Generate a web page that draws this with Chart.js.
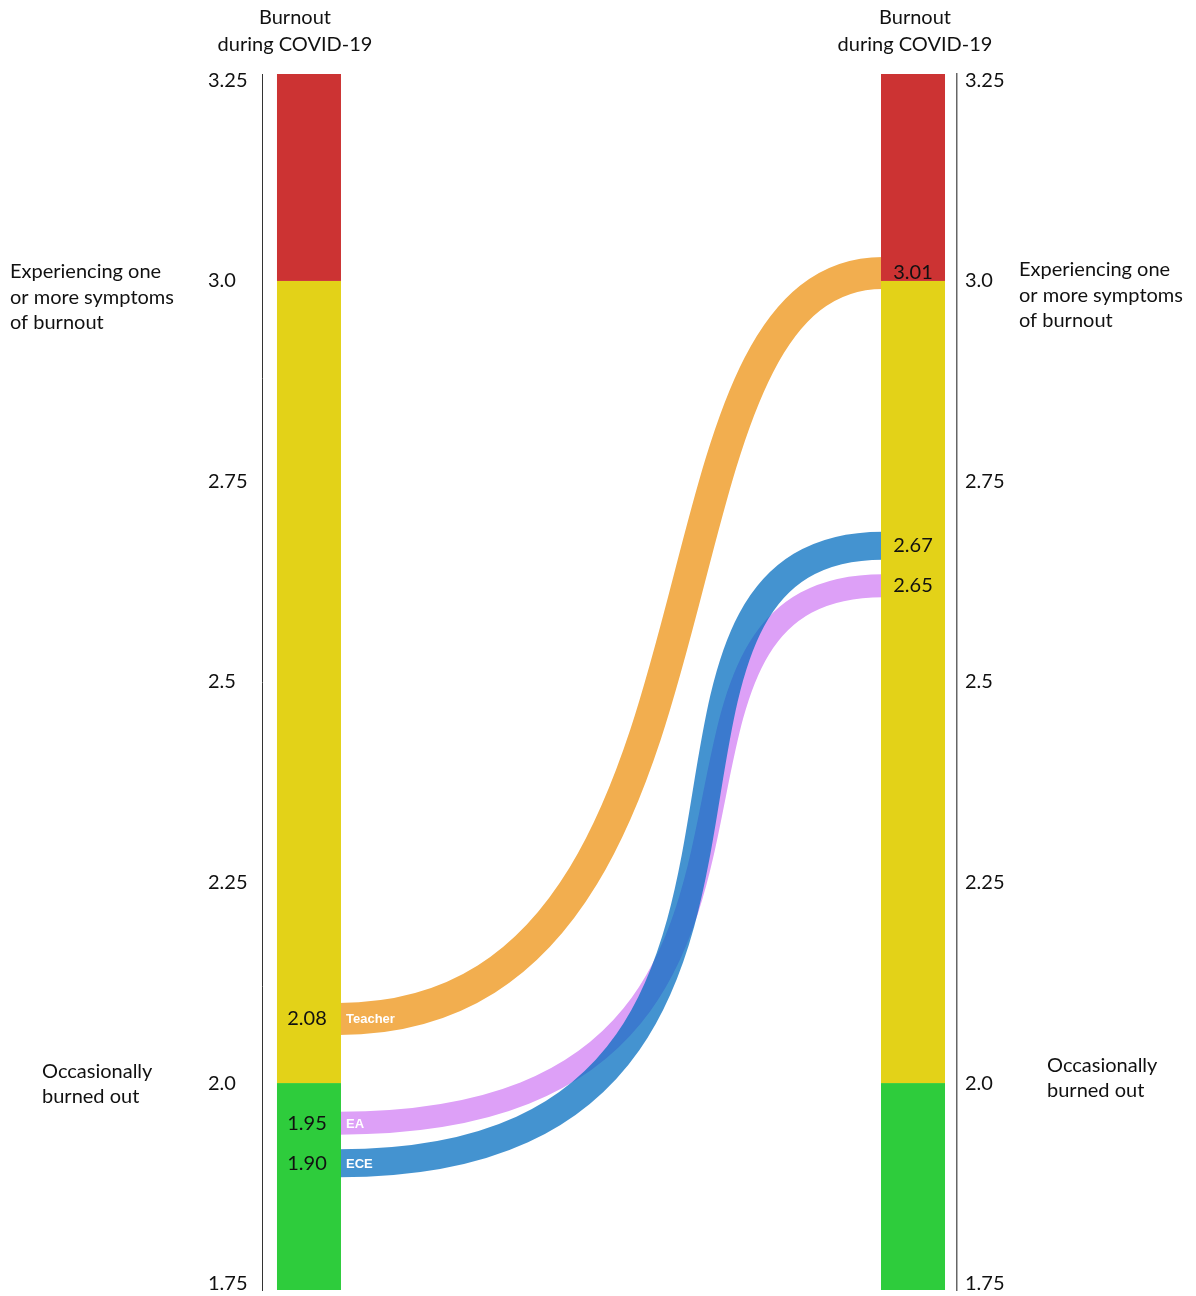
<!DOCTYPE html>
<html>
<head>
<meta charset="utf-8">
<script src="https://cdn.jsdelivr.net/npm/chart.js"></script>
<style>
  html, body { margin: 0; padding: 0; background: #fff; }
  #wrap { width: 1196px; height: 1296px; }
</style>
</head>
<body>
<div id="wrap"><canvas id="burnoutChart" width="1196" height="1296"></canvas></div>
<script>
// --- data ---
const groups = ['Teacher', 'EA', 'ECE'];
const beforeValues = [2.08, 1.95, 1.90];   // left column
const duringValues = [3.01, 2.65, 2.67];   // right column
const zoneBounds = [1.742, 2.0, 3.0, 3.258];
const zoneColors = ['#2ECC3C', '#E3D218', '#CC3333'];
const tickValues = [1.75, 2.0, 2.25, 2.5, 2.75, 3.0, 3.25];
const tickLabels = ['1.75', '2.0', '2.25', '2.5', '2.75', '3.0', '3.25'];
const columnTitle = ['Burnout', 'during COVID-19'];
const zoneNotes = [['Occasionally', 'burned out'], ['Experiencing one', 'or more symptoms', 'of burnout']];

// --- styles ---
const FONT = 'Lato, "Open Sans", sans-serif';
const bandColors = ['#F2AE4F', '#DDA0F7', 'rgba(0,108,191,0.735)'];
const bandWidth = [32, 23, 28];
const bandShape = [[0.78, 0.52], [1.0, 0.45], [1.0, 0.42]]; // bezier control x (normalized)
const colX = [0.0676, 0.9367];   // column centres on the hidden x scale
const colW = 64;
const minSep = 40;

function spread(ys) {
  // push band ends apart when they would overlap
  const idx = ys.map((y, i) => i).sort((a, b) => ys[a] - ys[b]);
  const out = ys.slice();
  for (let k = 1; k < idx.length; k++) {
    const prev = out[idx[k - 1]], cur = idx[k];
    if (out[cur] - prev < minSep) out[cur] = prev + minSep;
  }
  return out;
}

const drawPlugin = {
  id: 'burnoutDraw',
  beforeDatasetsDraw(chart) {
    const { ctx, scales: { x, y } } = chart;
    const cx = colX.map(v => x.getPixelForValue(v));
    const x0 = cx[0] + colW / 2, x1 = cx[1] - colW / 2;
    const y0s = spread(beforeValues.map(v => y.getPixelForValue(v)));
    const y1s = spread(duringValues.map(v => y.getPixelForValue(v)));
    chart.$ends = { cx, x0, x1, y0s, y1s };

    // bands
    groups.forEach((g, i) => {
      const dx = x1 - x0, [a, b] = bandShape[i];
      ctx.save();
      ctx.beginPath();
      ctx.moveTo(x0 - 2, y0s[i]);
      ctx.bezierCurveTo(x0 + a * dx, y0s[i], x0 + b * dx, y1s[i], x1 + 2, y1s[i]);
      ctx.strokeStyle = bandColors[i];
      ctx.lineWidth = bandWidth[i];
      ctx.lineCap = 'butt';
      ctx.stroke();
      ctx.restore();
    });

    // zone columns
    cx.forEach(c => {
      for (let z = 0; z < zoneColors.length; z++) {
        const top = y.getPixelForValue(zoneBounds[z + 1]);
        const bot = y.getPixelForValue(zoneBounds[z]);
        ctx.fillStyle = zoneColors[z];
        ctx.fillRect(c - colW / 2, top, colW, bot - top);
      }
    });
  },
  afterDraw(chart) {
    const { ctx, scales: { y } } = chart;
    const { cx, x0, y0s, y1s } = chart.$ends;
    ctx.save();
    ctx.textBaseline = 'middle';

    // value labels
    ctx.fillStyle = '#111';
    ctx.font = '20px ' + FONT;
    ctx.textAlign = 'center';
    groups.forEach((g, i) => {
      ctx.fillText(beforeValues[i].toFixed(2), cx[0] - 2, y0s[i]);
      ctx.fillText(duringValues[i].toFixed(2), cx[1], y1s[i]);
    });

    // group names on the bands
    ctx.fillStyle = '#fff';
    ctx.font = 'bold 13px "Liberation Sans", Arial, sans-serif';
    ctx.textAlign = 'left';
    groups.forEach((g, i) => ctx.fillText(g, x0 + 5, y0s[i] + 1));

    // column titles
    ctx.fillStyle = '#111';
    ctx.font = '20px ' + FONT;
    ctx.textAlign = 'center';
    [cx[0] - 14, cx[1] + 2].forEach(c => {
      ctx.fillText(columnTitle[0], c, 18);
      ctx.fillText(columnTitle[1], c, 45);
    });

    // zone notes
    ctx.textAlign = 'left';
    const lh = 25.5;
    const yTop = y.getPixelForValue(3.0), yMid = y.getPixelForValue(2.0);
    zoneNotes[1].forEach((t, k) => {
      ctx.fillText(t, 10, yTop - 9 + k * lh);
      ctx.fillText(t, 1019, yTop - 11 + k * lh);
    });
    zoneNotes[0].forEach((t, k) => {
      ctx.fillText(t, 42, yMid - 12 + k * lh);
      ctx.fillText(t, 1047, yMid - 18 + k * lh);
    });
    ctx.restore();
  }
};

function axis(position) {
  return {
    type: 'linear',
    position,
    min: zoneBounds[0],
    max: zoneBounds[zoneBounds.length - 1],
    afterBuildTicks: s => { s.ticks = tickValues.map(v => ({ value: v })); },
    afterFit: s => {
      s.width = position === 'left' ? 54 : 60;
      s.paddingTop = 0;
      s.paddingBottom = 0;
    },
    grid: { display: false, drawTicks: false },
    border: { display: true, color: position === 'left' ? '#333' : '#666', width: position === 'left' ? 1 : 1.5 },
    ticks: {
      autoSkip: false,
      crossAlign: position === 'left' ? 'far' : 'near',
      padding: 8,
      color: '#111',
      font: { family: FONT, size: 20 },
      callback: v => tickLabels[tickValues.indexOf(v)]
    }
  };
}

new Chart(document.getElementById('burnoutChart'), {
  type: 'scatter',
  data: { datasets: [{ data: [], showLine: false }] },
  options: {
    responsive: false,
    animation: false,
    devicePixelRatio: 1,
    layout: { padding: { left: 208, right: 179, top: 74, bottom: 6 } },
    plugins: { legend: { display: false }, tooltip: { enabled: false } },
    scales: {
      x: { type: 'linear', min: 0, max: 1, display: false },
      y: axis('left'),
      y2: axis('right')
    }
  },
  plugins: [drawPlugin]
});
</script>
</body>
</html>
